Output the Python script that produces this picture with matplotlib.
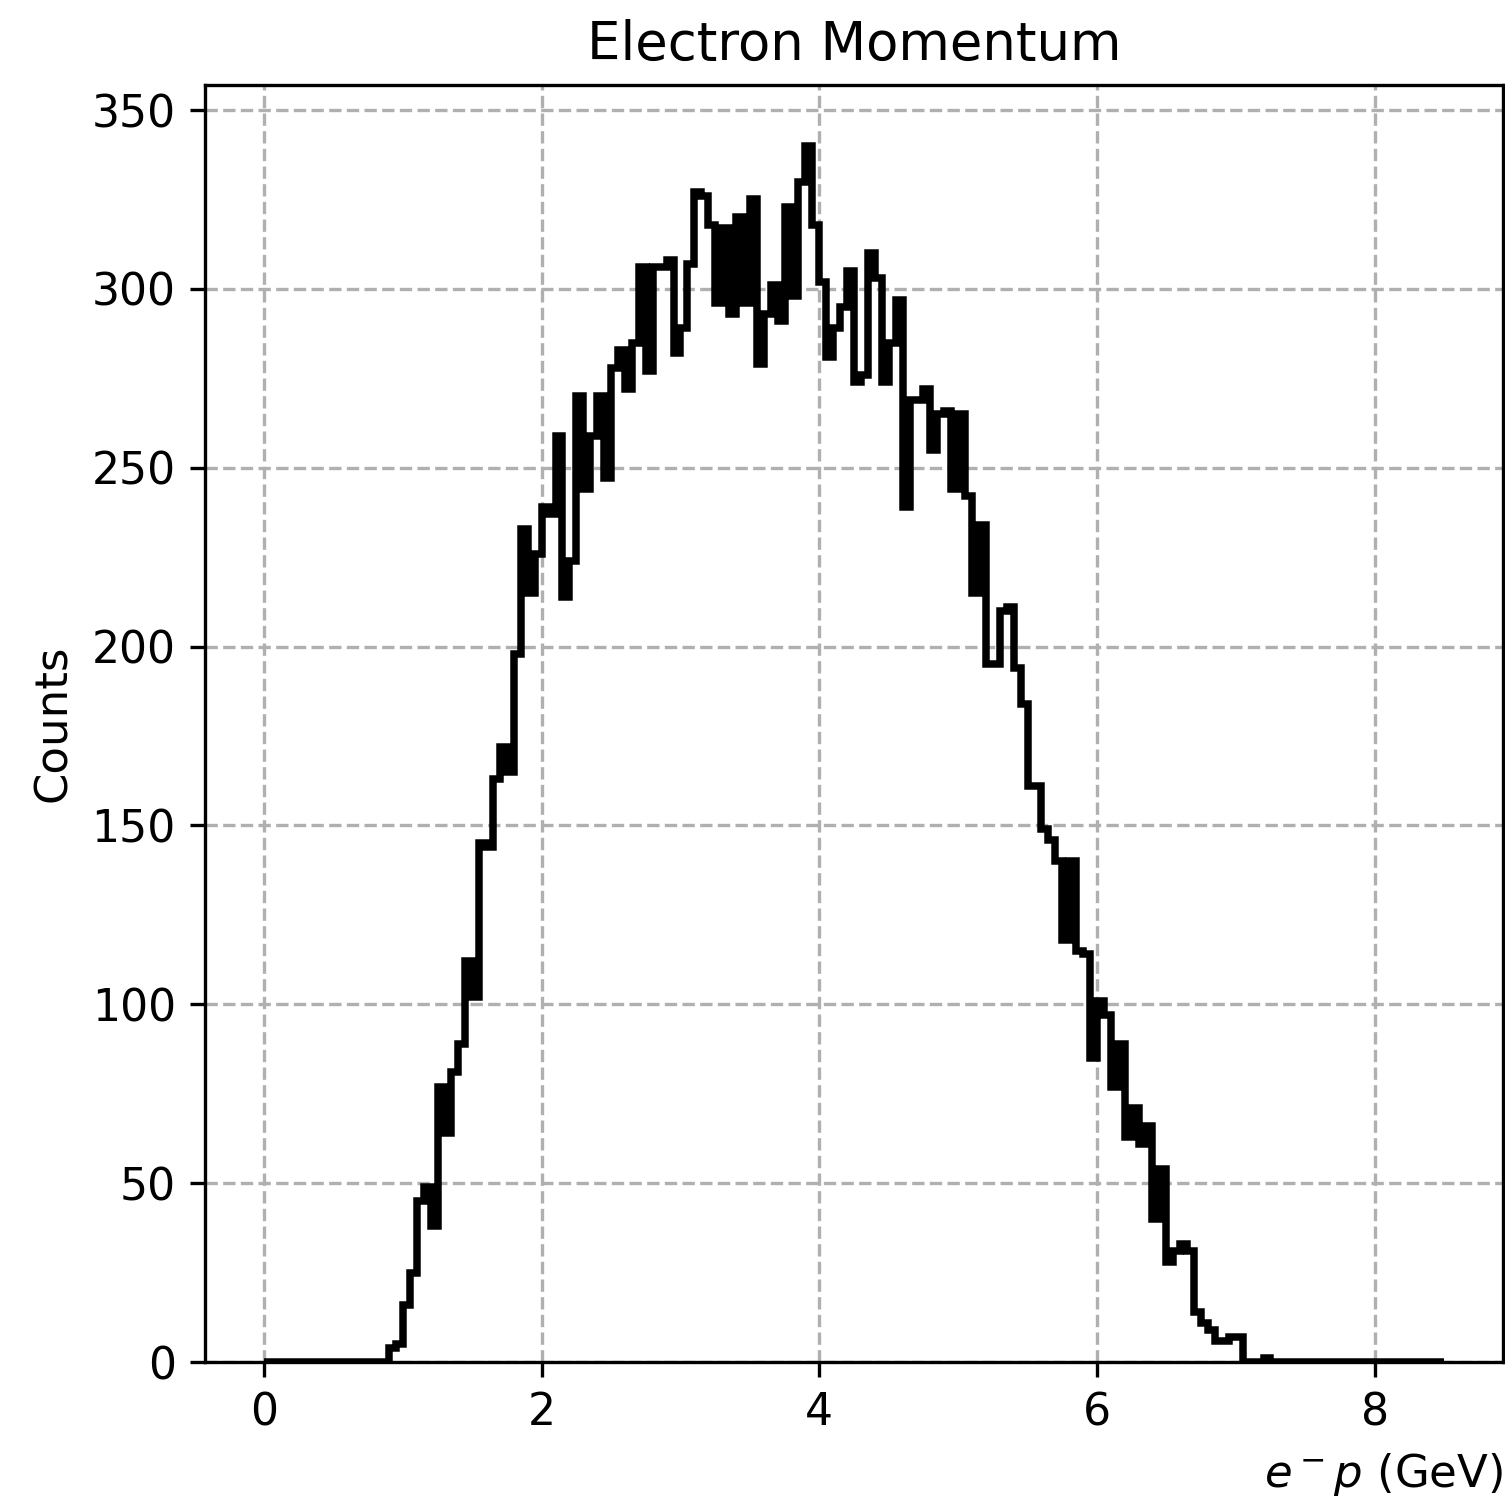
import numpy as np
import matplotlib
matplotlib.use("Agg")
import matplotlib.pyplot as plt

# Histogram of electron momentum: 170 bins of 0.05 GeV between 0 and 8.5 GeV
p_min, p_max, n_bins = 0.0, 8.5, 170

counts = [
    0, 0, 0, 0, 0, 0, 0, 0, 0, 0,
    0, 0, 0, 0, 0, 0, 0, 0, 4, 5,
    16, 25, 45, 49, 38, 77, 64, 81, 89, 112,
    102, 145, 144, 163, 172, 165, 198, 233, 215, 226,
    239, 237, 259, 214, 224, 270, 244, 259, 270, 247,
    278, 283, 272, 285, 306, 277, 306, 306, 308, 282,
    289, 307, 327, 326, 318, 296, 317, 293, 320, 296,
    325, 279, 293, 301, 291, 323, 298, 330, 340, 318,
    302, 281, 289, 295, 305, 274, 276, 310, 303, 274,
    285, 297, 239, 269, 269, 272, 255, 265, 266, 244,
    265, 242, 215, 234, 195, 195, 210, 211, 194, 184,
    161, 161, 149, 146, 140, 118, 140, 115, 114, 85,
    101, 97, 77, 89, 63, 71, 61, 66, 40, 54,
    28, 31, 33, 31, 14, 11, 9, 6, 6, 7,
    7, 0, 0, 0, 1, 0, 0, 0, 0, 0,
    0, 0, 0, 0, 0, 0, 0, 0, 0, 0,
    0, 0, 0, 0, 0, 0, 0, 0, 0, 0,
]

edges = np.linspace(p_min, p_max, n_bins + 1)

fig = plt.figure(figsize=(1505 / 300, 1498 / 300), dpi=300)
ax = fig.add_axes([205 / 1505, 136 / 1498, 1298 / 1505, 1277 / 1498])

ax.hist(edges[:-1], bins=edges, weights=counts, histtype="step",
        color="black", linewidth=1.8)

ax.set_title("Electron Momentum", fontsize=12.7)
ax.set_xlabel(r"$e^-p$ (GeV)", loc="right", fontsize=10.8)
ax.set_ylabel("Counts", fontsize=10.8)
ax.set_xticks([0, 2, 4, 6, 8])
ax.set_yticks(np.arange(0, 351, 50))
ax.tick_params(labelsize=10.6)
ax.grid(True, linestyle="--")

fig.savefig("out.png", dpi=300)
